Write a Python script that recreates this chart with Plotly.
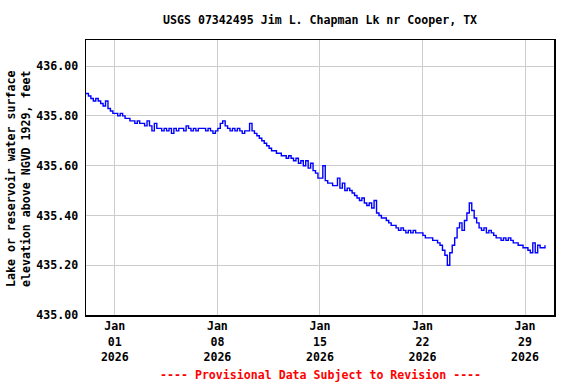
import pandas as pd
import plotly.graph_objects as go

# Lake elevation, feet above NGVD 1929, every 4 hours from 2025-12-30 00:45
elev = [
    435.89, 435.88, 435.87, 435.86, 435.87, 435.86,  # Dec 30
    435.85, 435.84, 435.86, 435.83, 435.82, 435.81,  # Dec 31
    435.81, 435.80, 435.81, 435.80, 435.79, 435.79,  # Jan 01
    435.78, 435.78, 435.77, 435.78, 435.77, 435.77,  # Jan 02
    435.76, 435.78, 435.76, 435.74, 435.77, 435.75,  # Jan 03
    435.75, 435.74, 435.75, 435.74, 435.75, 435.73,  # Jan 04
    435.75, 435.74, 435.75, 435.75, 435.74, 435.76,  # Jan 05
    435.75, 435.74, 435.75, 435.74, 435.75, 435.75,  # Jan 06
    435.75, 435.74, 435.75, 435.74, 435.73, 435.74,  # Jan 07
    435.75, 435.77, 435.78, 435.76, 435.75, 435.74,  # Jan 08
    435.75, 435.74, 435.75, 435.74, 435.73, 435.74,  # Jan 09
    435.74, 435.77, 435.74, 435.73, 435.72, 435.71,  # Jan 10
    435.70, 435.69, 435.68, 435.67, 435.66, 435.66,  # Jan 11
    435.65, 435.65, 435.64, 435.64, 435.63, 435.64,  # Jan 12
    435.63, 435.62, 435.63, 435.61, 435.62, 435.60,  # Jan 13
    435.62, 435.59, 435.61, 435.58, 435.57, 435.55,  # Jan 14
    435.55, 435.60, 435.54, 435.53, 435.53, 435.52,  # Jan 15
    435.52, 435.55, 435.51, 435.53, 435.50, 435.51,  # Jan 16
    435.50, 435.49, 435.48, 435.47, 435.46, 435.47,  # Jan 17
    435.45, 435.44, 435.45, 435.43, 435.46, 435.41,  # Jan 18
    435.40, 435.39, 435.39, 435.38, 435.37, 435.36,  # Jan 19
    435.36, 435.35, 435.34, 435.35, 435.34, 435.33,  # Jan 20
    435.34, 435.33, 435.34, 435.33, 435.33, 435.33,  # Jan 21
    435.32, 435.31, 435.31, 435.31, 435.30, 435.30,  # Jan 22
    435.29, 435.28, 435.26, 435.24, 435.20, 435.25,  # Jan 23
    435.28, 435.31, 435.35, 435.37, 435.34, 435.38,  # Jan 24
    435.41, 435.45, 435.42, 435.39, 435.37, 435.35,  # Jan 25
    435.34, 435.35, 435.33, 435.34, 435.33, 435.32,  # Jan 26
    435.31, 435.31, 435.30, 435.31, 435.30, 435.31,  # Jan 27
    435.30, 435.29, 435.29, 435.28, 435.28, 435.27,  # Jan 28
    435.27, 435.26, 435.25, 435.29, 435.25, 435.28,  # Jan 29
    435.27, 435.27, 435.28,                          # Jan 30
]
start_time = "2025-12-30 00:45"
x_range = ["2025-12-30 00:45", "2026-01-30 23:30"]
y_range = [435.0, 436.105]

x_tick_dates = ["2026-01-01", "2026-01-08", "2026-01-15", "2026-01-22", "2026-01-29"]
x_tick_text = ["Jan<br>01<br>2026", "Jan<br>08<br>2026", "Jan<br>15<br>2026",
               "Jan<br>22<br>2026", "Jan<br>29<br>2026"]
y_tick_vals = [435.0, 435.2, 435.4, 435.6, 435.8, 436.0]

title_text = "USGS 07342495 Jim L. Chapman Lk nr Cooper, TX"
y_title = "Lake or reservoir water surface<br>elevation above NGVD 1929, feet"
footer = "---- Provisional Data Subject to Revision ----"

times = pd.date_range(start_time, periods=len(elev), freq="4h")

FONT = "DejaVu Sans Mono"
FS = 11.6

fig = go.Figure()
fig.add_trace(go.Scatter(
    x=times, y=elev, mode="lines", line=dict(color="#0000FF", width=1.4, shape="hv"),
    showlegend=False, hoverinfo="skip",
))

fig.update_layout(
    width=576, height=384,
    margin=dict(l=85.5, r=22, t=39.5, b=68.5),
    paper_bgcolor="white", plot_bgcolor="white",
    font=dict(family=FONT, size=FS, color="black", weight="bold"),
    showlegend=False,
)
fig.update_xaxes(
    range=x_range, tickmode="array", tickvals=x_tick_dates, ticktext=x_tick_text,
    showgrid=True, gridcolor="#CCCCCC", gridwidth=1,
    showline=True, linecolor="black", linewidth=1.5, mirror=True,
    ticks="", zeroline=False, automargin=False,
    tickfont=dict(family=FONT, size=FS, color="black", weight="bold"),
)
fig.update_yaxes(
    range=y_range, tickmode="array", tickvals=y_tick_vals, tickformat=".2f",
    showgrid=True, gridcolor="#CCCCCC", gridwidth=1,
    showline=True, linecolor="black", linewidth=1.5, mirror=True,
    ticks="", zeroline=False, ticklabelstandoff=4, automargin=False,
    tickfont=dict(family=FONT, size=FS, color="black", weight="bold"),
)

fig.add_annotation(
    text=title_text, xref="paper", yref="paper", x=0.5, y=1, yshift=20,
    xanchor="center", yanchor="middle", showarrow=False,
    font=dict(family=FONT, size=FS, color="black", weight="bold"),
)
fig.add_annotation(
    text=y_title, xref="paper", yref="paper", x=0, y=0.5, xshift=-67.5, yshift=-2,
    xanchor="center", yanchor="middle", textangle=-90, showarrow=False,
    font=dict(family=FONT, size=FS, color="black", weight="bold"),
)
fig.add_annotation(
    text=footer, xref="paper", yref="paper", x=0.5, y=0, yshift=-59.5,
    xanchor="center", yanchor="middle", showarrow=False,
    font=dict(family=FONT, size=FS, color="red", weight="bold"),
)

fig.write_html(
    "out.html",
    config={"displayModeBar": False, "staticPlot": True},
    post_script="document.body.style.margin='0';document.body.style.padding='0';",
)
